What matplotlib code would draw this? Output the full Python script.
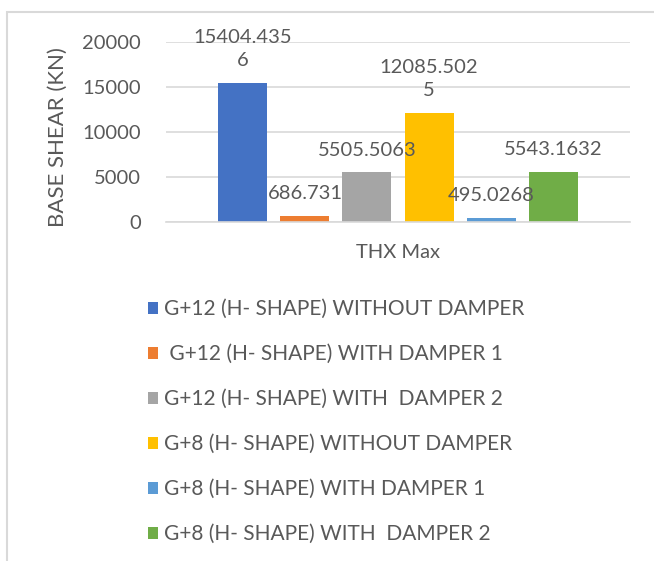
import matplotlib.pyplot as plt
from matplotlib.patches import Rectangle

plt.rcParams['font.family'] = ['Lato', 'DejaVu Sans']

category = 'THX Max'
series = ['G+12 (H- SHAPE) WITHOUT DAMPER',
          ' G+12 (H- SHAPE) WITH DAMPER 1',
          'G+12 (H- SHAPE) WITH  DAMPER 2',
          'G+8 (H- SHAPE) WITHOUT DAMPER',
          'G+8 (H- SHAPE) WITH DAMPER 1',
          'G+8 (H- SHAPE) WITH  DAMPER 2']
values = [15404.4356, 686.731, 5505.5063, 12085.5025, 495.0268, 5543.1632]
colors = ['#4472C4', '#ED7D31', '#A5A5A5', '#FFC000', '#5B9BD5', '#70AD47']
yticks = [0, 5000, 10000, 15000, 20000]

txt = '#595959'
fs = 14.5

fig = plt.figure(figsize=(6.54, 5.61), dpi=100)
ax = fig.add_axes([166/654, 1-222/561, 464/654, 180/561])

# frame of the chart area (cut off at right/bottom in the reference)
fig.patches.append(Rectangle((7/654, -0.1), 1.2, 1-12/561+0.1, transform=fig.transFigure,
                             fill=False, edgecolor='#D9D9D9', lw=1.5))

for i, (name, v, c) in enumerate(zip(series, values, colors)):
    ax.bar(i, v, width=0.79, color=c, label=name, zorder=2)
    s = str(v)
    if len(s) > 9:
        s = s[:9] + '\n' + s[9:]
    ax.annotate(s, (i, v), xytext=(0, 10), textcoords='offset points',
                ha='center', va='bottom', fontsize=fs, color=txt,
                linespacing=1.45, zorder=3)

ax.set_xlim(2.5 - 3.74, 2.5 + 3.74)
ax.set_ylim(0, 20000)
ax.set_yticks(yticks)
ax.set_yticklabels([str(t) for t in yticks])
ax.set_xticks([2.5])
ax.set_xticklabels([category])
ax.tick_params(axis='y', length=0, pad=18, labelsize=fs, labelcolor=txt)
ax.tick_params(axis='x', length=0, pad=16, labelsize=fs, labelcolor=txt)
ax.grid(axis='y', color='#D9D9D9', lw=1.2, zorder=0)
for sp in ['top', 'right', 'left']:
    ax.spines[sp].set_visible(False)
ax.spines['bottom'].set_color('#D9D9D9')
ax.spines['bottom'].set_linewidth(1.2)

fig.text(58/654, 1-137/561, 'BASE SHEAR (KN)', rotation=90, ha='center', va='center',
         fontsize=16, color=txt)

leg = fig.legend(loc='upper left', bbox_to_anchor=(148/654, 1-299/561), frameon=False,
                 fontsize=15, handlelength=0.5, handleheight=0.5, handletextpad=0.25,
                 labelspacing=1.2, borderpad=0, borderaxespad=0)
for t in leg.get_texts():
    t.set_color(txt)

plt.savefig('out.png', dpi=100)
